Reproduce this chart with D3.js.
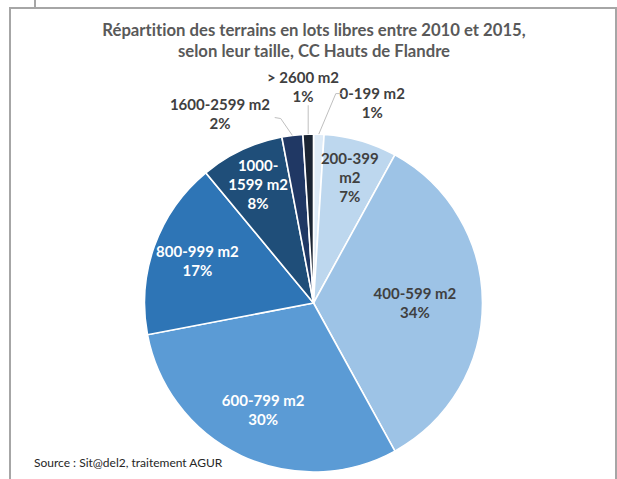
<!DOCTYPE html>
<html>
<head>
<meta charset="utf-8">
<script src="https://cdn.jsdelivr.net/npm/d3@7"></script>
<style>
  html, body { margin: 0; padding: 0; background: #fff; }
  svg { display: block; font-family: Lato, "Open Sans", sans-serif; font-variant-ligatures: none; }
</style>
</head>
<body>
<svg id="chart" width="617" height="479"></svg>
<script>
// Lot-size categories and their share of free building plots (%)
const categories = ["0-199 m2", "200-399 m2", "400-599 m2", "600-799 m2",
                    "800-999 m2", "1000-1599 m2", "1600-2599 m2", "> 2600 m2"];
const shares = [1, 7, 34, 30, 17, 8, 2, 1];
const sliceColors = ["#deebf7", "#bdd7ee", "#9dc3e6", "#5b9bd5",
                     "#2e75b6", "#1f4e79", "#203864", "#1b2533"];
const titleLines = ["Répartition des terrains en lots libres entre 2010 et 2015,",
                    "selon leur taille, CC Hauts de Flandre"];
const sourceText = "Source : Sit@del2, traitement AGUR";

// Label layout: how each category name is broken into lines, and where it sits
const labelLines = {
  "200-399 m2": ["200-399", "m2"],
  "1000-1599 m2": ["1000-", "1599 m2"]
};
const insideRadius = {       // fraction of the radius for labels drawn inside
  "200-399 m2": 0.77, "400-599 m2": 0.6, "600-799 m2": 0.7,
  "800-999 m2": 0.73, "1000-1599 m2": 0.77
};
const outside = {            // angle offset (deg) and radius for callout labels
  "0-199 m2": { da: 14.6, rr: 1.23, elbow: 1.25, side: 1 },
  "1600-2599 m2": { da: -19.2, rr: 1.245, elbow: 1.155, side: -1 },
  "> 2600 m2": { da: -1.0, rr: 1.275, elbow: 1.17, side: 0 }
};
const darkText = new Set(["600-799 m2", "800-999 m2", "1000-1599 m2"]);

const svg = d3.select("#chart");
const W = 617, H = 479;

// outer frame
svg.append("path")
  .attr("d", `M35,0 V8 M10,${H} V8 H616 V${H}`)
  .attr("fill", "none").attr("stroke", "#a6a6a6").attr("stroke-width", 2);

// title
svg.append("g").selectAll("text").data(titleLines).join("text")
  .attr("x", 314).attr("y", (d, i) => 36 + i * 21)
  .attr("text-anchor", "middle")
  .attr("font-size", 16.7).attr("font-weight", 700).attr("fill", "#595959")
  .text(d => d);

// pie
const cx = 313.5, cy = 303, r = 169;
const data = categories.map((c, i) => ({ cat: c, value: shares[i], color: sliceColors[i] }));
const pie = d3.pie().value(d => d.value).sort(null);
const arcs = pie(data);
const arc = d3.arc().innerRadius(0).outerRadius(r);

const g = svg.append("g").attr("transform", `translate(${cx},${cy})`);
g.selectAll("path.slice").data(arcs).join("path")
  .attr("class", "slice")
  .attr("d", arc)
  .attr("fill", d => d.data.color)
  .attr("stroke", "#fff").attr("stroke-width", 1.6);

const polar = (angDeg, rad) => {
  const a = angDeg * Math.PI / 180;
  return [Math.sin(a) * rad, -Math.cos(a) * rad];
};
const midDeg = d => ((d.startAngle + d.endAngle) / 2) * 180 / Math.PI;
const lineH = 19;

arcs.forEach(d => {
  const cat = d.data.cat;
  const pct = d.data.value + "%";
  const fill = darkText.has(cat) ? "#ffffff" : "#404040";
  if (outside[cat]) {
    const o = outside[cat];
    const [lx, ly] = polar(midDeg(d) + o.da, r * o.rr);
    const lines = [cat, pct];
    g.append("g").selectAll("text").data(lines).join("text")
      .attr("x", lx).attr("y", (t, i) => ly + (i - (lines.length - 1) / 2) * lineH + 5)
      .attr("text-anchor", "middle")
      .attr("font-size", 15).attr("font-weight", 700).attr("fill", "#404040")
      .text(t => t);
    // leader line from the slice edge to the label
    const [ax, ay] = polar(midDeg(d), r);
    let pts;
    if (o.side === 0) {
      pts = [[ax, ay], [ax, -r * o.elbow]];
    } else if (o.side > 0) {
      const ey = ly - 10;
      const ex = ax + (ay - ey) * 0.42;
      pts = [[ax, ay], [ex, ey], [ex + 7, ey]];
    } else {
      const ey = ly + 4;
      const ex = ax - (ay - ey) * 0.69;
      pts = [[ax, ay], [ex, ey], [ex - 6, ey - 1]];
    }
    g.append("polyline")
      .attr("points", pts.map(p => p.join(",")).join(" "))
      .attr("fill", "none").attr("stroke", "#bfbfbf").attr("stroke-width", 1);
  } else {
    const [lx, ly] = polar(midDeg(d), r * insideRadius[cat]);
    const lines = (labelLines[cat] || [cat]).concat([pct]);
    g.append("g").selectAll("text").data(lines).join("text")
      .attr("x", lx).attr("y", (t, i) => ly + (i - (lines.length - 1) / 2) * lineH + 5)
      .attr("text-anchor", "middle")
      .attr("font-size", 15).attr("font-weight", 700).attr("fill", fill)
      .text(t => t);
  }
});

// source note
svg.append("text")
  .attr("x", 34).attr("y", 467)
  .attr("font-size", 12).attr("fill", "#262626")
  .text(sourceText);
</script>
</body>
</html>
